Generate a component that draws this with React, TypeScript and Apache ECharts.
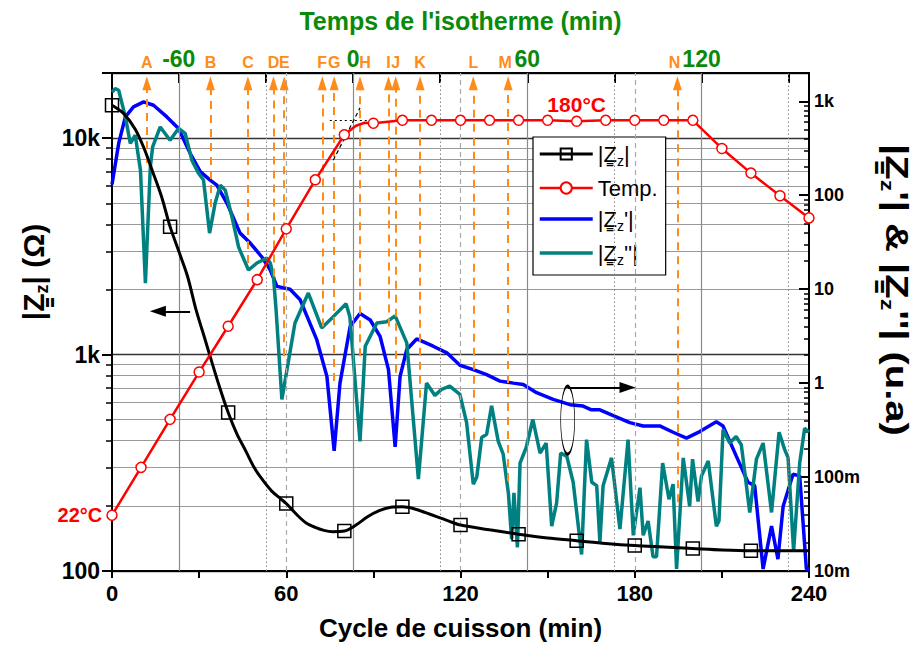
import React, { useEffect, useRef } from "react";
import * as echarts from "echarts";

const FONT = "'Liberation Sans', Arial, Helvetica, sans-serif";
const ORANGE = "#ff8c1a";
const GREEN = "#0a8a0a";
const TEAL = "#008080";
const BLUE = "#0000ff";
const RED = "#ff0000";

// Isotherm time origin on the cooking-cycle axis (min)
const isothermStart = 83;

// |Zz| (Ohm) — left log axis
const zmodTimes = [0, 4, 8, 11, 14, 17, 20, 23, 26, 29, 32, 34, 37, 40, 43, 46, 49, 52, 55, 58, 60, 64, 67, 70, 73, 76, 80, 84, 88, 92, 96, 100, 104, 108, 112, 116, 120, 130, 140, 150, 160, 170, 180, 190, 200, 210, 220, 230, 240];
const zmodValues = [14200, 13000, 11000, 9000, 7000, 5400, 3900, 3000, 2300, 1600, 1180, 960, 710, 540, 430, 360, 300, 262, 234, 216, 205, 180, 166, 159, 154, 152, 153, 163, 178, 190, 197, 198, 194, 186, 178, 170, 163, 155, 148, 142, 138, 134, 131, 129, 127, 125, 124, 124, 124];
const zmodMarkerTimes = [0, 20, 40, 60, 80, 100, 120, 140, 160, 180, 200, 220];

// Temperature (°C) — hidden linear axis
const tempTimes = [0, 10, 20, 30, 40, 50, 60, 70, 80, 84, 87, 90, 100, 110, 120, 130, 140, 150, 160, 170, 180, 190, 200, 210, 220, 230, 240];
const tempValues = [22.4, 41.6, 60.9, 79.9, 98.3, 117, 137.4, 157.1, 175.2, 178.8, 180, 179.8, 181, 181, 181, 181, 181, 181, 180.6, 181, 181, 181, 181, 169.7, 159.8, 150.7, 141.8];

// |Zz'| (a.u.) — right log axis
const zreTimes = [0, 2.3, 4.6, 7.4, 10.9, 14.3, 18.9, 22.9, 26.9, 30.4, 33.8, 36.1, 39.6, 44.1, 47.6, 51.6, 54.5, 56.8, 61.3, 64.8, 70.5, 74, 76.5, 78.5, 82, 85.4, 88.9, 92.3, 95.2, 97.5, 99.2, 101.5, 104.9, 110.6, 115.3, 119.8, 124.4, 129, 133.6, 138.2, 141.6, 146.2, 151.9, 157.7, 162.2, 165.1, 168, 172.6, 178.3, 182.9, 188.6, 193.2, 197.8, 202.4, 208.1, 210.4, 215, 219, 221.3, 224.2, 227.1, 229.3, 231.1, 234.5, 236.8, 239.1, 240];
const zreValues = [130, 356, 682, 871, 984, 907, 682, 513, 279, 178, 145, 128, 82, 39.5, 31, 22, 16, 10.7, 10, 7.7, 2.9, 1.18, 0.19, 1.0, 4.0, 5.5, 4.7, 3.15, 1.39, 0.21, 1.18, 2.28, 2.95, 2.47, 2.1, 1.55, 1.39, 1.23, 1.05, 1.0, 0.966, 0.79, 0.67, 0.59, 0.57, 0.52, 0.52, 0.45, 0.38, 0.35, 0.35, 0.3, 0.26, 0.305, 0.387, 0.35, 0.166, 0.088, 0.081, 0.0105, 0.03, 0.0134, 0.049, 0.107, 0.103, 0.0105, 0.0105];

// |Zz''| (a.u.) — right log axis
const zimTimes = [0, 1.1, 2.3, 4.6, 6.3, 8, 9.8, 11.5, 13.2, 14, 16.6, 20, 22.9, 25.2, 27.5, 29.8, 31.5, 33.6, 35.5, 37.3, 39, 41.3, 43.6, 47, 49.9, 53.3, 54.5, 55.6, 56.5, 58.5, 63, 67.6, 72.2, 76.2, 80.6, 81.9, 85.4, 87.2, 91.2, 94.6, 97.5, 101.5, 105.5, 108.3, 111.2, 113.5, 116.3, 119.8, 122.1, 124.4, 125.6, 127.3, 129, 130.7, 133, 134.7, 136.5, 137.6, 138.4, 139.6, 140.5, 142.6, 144.9, 147.4, 149.5, 151.4, 153.1, 154.5, 156.6, 158.8, 161.7, 163.4, 165.2, 166.9, 168, 169.1, 172, 174.9, 177.7, 179.5, 181.8, 182.9, 184.6, 186.3, 187.5, 189.6, 191.8, 193.2, 194.4, 196.7, 198.9, 199.9, 201.8, 203, 205.3, 208.1, 209, 210.4, 212.7, 214.9, 216.7, 219.6, 221.9, 224.2, 227.1, 229.7, 231.6, 232.8, 234.7, 236.8, 238.5, 240];
const zimValues = [1250, 1365, 1310, 682, 356, 435, 185, 11.6, 201, 327, 533, 385, 513, 454, 236, 171, 145, 39.5, 82, 128, 113, 59, 28, 16, 19, 21.4, 19, 13.6, 6, 0.67, 4.37, 9.1, 3.87, 5.1, 7.0, 5.1, 0.24, 2.47, 4.37, 4.5, 5.2, 2.68, 0.095, 1.0, 0.74, 0.86, 0.93, 0.757, 0.38, 0.084, 0.1, 0.264, 0.285, 0.574, 0.24, 0.175, 0.067, 0.0218, 0.068, 0.0178, 0.141, 0.205, 0.41, 0.18, 0.23, 0.03, 0.053, 0.18, 0.166, 0.088, 0.015, 0.25, 0.088, 0.081, 0.02, 0.081, 0.16, 0.028, 0.25, 0.024, 0.077, 0.024, 0.034, 0.0142, 0.0142, 0.141, 0.058, 0.084, 0.0105, 0.16, 0.049, 0.155, 0.055, 0.103, 0.148, 0.03, 0.034, 0.32, 0.23, 0.27, 0.22, 0.042, 0.155, 0.23, 0.042, 0.3, 0.197, 0.16, 0.0164, 0.141, 0.33, 0.3];

// Event markers A..N (cycle time, lower end on right axis)
const eventNames = ["A", "B", "C", "D", "E", "F", "G", "H", "I", "J", "K", "L", "M", "N"];
const eventTimes = [12.0, 33.9, 46.8, 55.6, 59.3, 72.4, 76.5, 85.4, 95.2, 97.7, 106.1, 124.4, 136.4, 194.7];
const eventEnds = [220, 75, 19, 13.6, 1.93, 4.0, 1.05, 1.93, 4.0, 1.29, 0.7, 0.25, 0.091, 0.054];
const eventLabelShift = [0, 0, 0, 0, 0, 0, 0, 5, 0, 0, 0, 0, -3, -3];
const eventArrowTop = 1553;

// Axis ticks
const bottomTickInterval = 30;
const topTicks = [-60, -30, 0, 30, 60, 90, 120, 150];
const topLabels = [-60, 0, 60, 120];
const topMinorGrid = [-30, 30, 90, 150];
const bottomDashedGrid = [60, 120, 180];

const pairs = (t: number[], v: number[]) => t.map((x, i) => [x, v[i]]);

const subRich = (size: number, pad: number, color = "#000", weight: any = "normal") => ({
  fontSize: size,
  fontFamily: FONT,
  fontWeight: weight,
  color,
  padding: [pad, 0, 0, 0],
});

const legendNames: Record<string, string> = {
  Zmod: "|Z\u0333{s|z}|",
  "Temp.": "Temp.",
  Zre: "|Z\u0333{s|z}'|",
  Zim: "|Z\u0333{s|z}''|",
};

function buildOption(): any {
  const zmodData = zmodTimes.map((t, i) => {
    const item: any = { value: [t, zmodValues[i]] };
    if (!zmodMarkerTimes.includes(t)) item.symbol = "none";
    return item;
  });
  const tempData = tempTimes.map((t, i) => {
    const item: any = { value: [t, tempValues[i]] };
    if (t % 10 !== 0) item.symbol = "none";
    if (t === 0) {
      item.label = {
        show: true, position: "left", distance: 4, formatter: "22°C",
        color: RED, fontSize: 20, fontWeight: "bold", fontFamily: FONT,
      };
    }
    if (t === 160) {
      item.label = {
        show: true, position: "top", distance: 1, formatter: "180°C",
        color: RED, fontSize: 21, fontWeight: "bold", fontFamily: FONT,
      };
    }
    return item;
  });

  const eventLines = eventNames.map((n, i) => [
    { name: n, coord: [eventTimes[i], eventEnds[i]], label: { offset: [eventLabelShift[i], 0] } },
    { name: n, coord: [eventTimes[i], eventArrowTop] },
  ]);

  return {
    animation: false,
    backgroundColor: "#fff",
    textStyle: { fontFamily: FONT },
    grid: { left: 112, right: 111, top: 73, bottom: 74, containLabel: false },
    legend: {
      data: [
        { name: "Zmod" },
        { name: "Temp." },
        { name: "Zre", itemStyle: { opacity: 0 } },
        { name: "Zim", itemStyle: { opacity: 0 } },
      ],
      orient: "vertical",
      left: 533,
      top: 137,
      padding: [6, 8, 8, 5],
      itemGap: 9,
      itemWidth: 53,
      itemHeight: 14,
      lineStyle: { width: "inherit" },
      backgroundColor: "#fff",
      borderColor: "#000",
      borderWidth: 1.2,
      borderRadius: 0,
      formatter: (name: string) => legendNames[name] ?? name,
      textStyle: {
        fontSize: 22,
        fontFamily: FONT,
        color: "#000",
        rich: { s: subRich(14, 14) },
      },
    },
    xAxis: [
      {
        type: "value",
        min: 0,
        max: 240,
        interval: bottomTickInterval,
        position: "bottom",
        axisLine: { onZero: false, lineStyle: { color: "#000", width: 2 } },
        axisTick: { show: true, inside: false, length: 7, lineStyle: { color: "#000", width: 2 } },
        axisLabel: {
          formatter: (v: number) => (v % 60 === 0 ? String(v) : ""),
          color: "#000", fontSize: 22, fontWeight: "bold", fontFamily: FONT, margin: 11,
        },
        splitLine: { show: false },
        name: "Cycle de cuisson (min)",
        nameLocation: "middle",
        nameGap: 44,
        nameTextStyle: { fontSize: 26, fontWeight: "bold", color: "#000", fontFamily: FONT },
      },
      {
        type: "value",
        min: -isothermStart,
        max: 240 - isothermStart,
        position: "top",
        axisLine: { onZero: false, lineStyle: { color: "#000", width: 2 } },
        axisTick: { show: true, inside: true, length: 10, customValues: topTicks, lineStyle: { color: "#000", width: 2 } },
        axisLabel: {
          customValues: topLabels,
          color: GREEN, fontSize: 23, fontWeight: "bold", fontFamily: FONT, margin: 3,
        },
        splitLine: { show: false },
        name: "Temps de l'isotherme (min)",
        nameLocation: "middle",
        nameGap: 40,
        nameTextStyle: { fontSize: 25, fontWeight: "bold", color: GREEN, fontFamily: FONT },
      },
    ],
    yAxis: [
      {
        type: "log",
        logBase: 10,
        min: 100,
        max: 20000,
        position: "left",
        axisLine: { show: true, onZero: false, lineStyle: { color: "#000", width: 2 } },
        axisTick: { show: true, inside: false, length: 10, lineStyle: { color: "#000", width: 2 } },
        minorTick: { show: true, splitNumber: 9, length: 6, lineStyle: { color: "#000", width: 1.5 } },
        axisLabel: {
          showMaxLabel: false,
          formatter: (v: number) => (v >= 20000 ? "" : v >= 1000 ? v / 1000 + "k" : String(v)),
          color: "#000", fontSize: 23, fontWeight: "bold", fontFamily: FONT, margin: 12,
        },
        splitLine: { show: true, lineStyle: { color: "#333", width: 1.3 } },
        minorSplitLine: { show: true, lineStyle: { color: "#999", width: 1 } },
      },
      {
        type: "log",
        logBase: 10,
        min: 0.01,
        max: 2000,
        position: "right",
        axisLine: { show: true, onZero: false, lineStyle: { color: "#000", width: 2 } },
        axisTick: { show: true, inside: true, length: 10, lineStyle: { color: "#000", width: 2 } },
        minorTick: { show: true, splitNumber: 9, length: 5, lineStyle: { color: "#000", width: 1.5 } },
        axisLabel: {
          showMaxLabel: false,
          formatter: (v: number) =>
            v >= 2000 ? "" : v >= 1000 ? v / 1000 + "k" : v < 1 ? Math.round(v * 1000) + "m" : String(Math.round(v)),
          color: "#000", fontSize: 18, fontWeight: "bold", fontFamily: FONT, margin: 5,
        },
        splitLine: { show: false },
      },
      { type: "value", min: 0, max: 200, show: false },
    ],
    graphic: [
      {
        type: "text",
        x: 33,
        y: 272,
        rotation: Math.PI / 2,
        style: {
          text: "{m||Z\u0333}{s|z}{m|| (Ω)}",
          align: "center",
          verticalAlign: "middle",
          rich: {
            m: { fontSize: 30, fontWeight: "bold", fontFamily: FONT, color: "#000" },
            s: subRich(18, 18, "#000", "bold"),
          },
        },
      },
      {
        type: "text",
        x: 897,
        y: 290,
        rotation: -Math.PI / 2,
        scaleY: 0.8,
        style: {
          text: "{k||}{b|Z\u0333}{bs|z}{b|'}{k|| & |}{t|Z\u0333}{ts|z}{t|''}{k|| (u.a)}",
          align: "center",
          verticalAlign: "middle",
          rich: {
            k: { fontSize: 40, fontWeight: "bold", fontFamily: FONT, color: "#000" },
            b: { fontSize: 40, fontWeight: "bold", fontFamily: FONT, color: BLUE },
            t: { fontSize: 40, fontWeight: "bold", fontFamily: FONT, color: TEAL },
            bs: subRich(23, 24, BLUE, "bold"),
            ts: subRich(23, 24, TEAL, "bold"),
          },
        },
      },
    ],
    series: [
      {
        name: "gridTop",
        type: "line",
        xAxisIndex: 1,
        yAxisIndex: 2,
        data: [[0, 0]],
        symbol: "none",
        silent: true,
        clip: false,
        z: 1,
        lineStyle: { opacity: 0 },
        markLine: {
          silent: true,
          symbol: "none",
          label: { show: false },
          data: [
            ...topLabels.map((v) => ({ xAxis: v, lineStyle: { color: "#8a8a8a", width: 1.2, type: "solid" } })),
            ...topMinorGrid.map((v) => ({ xAxis: v, lineStyle: { color: "#888", width: 1, type: [1.5, 2.5] } })),
          ],
        },
      },
      {
        name: "gridBottom",
        type: "line",
        xAxisIndex: 0,
        yAxisIndex: 2,
        data: [[0, 0]],
        symbol: "none",
        silent: true,
        clip: false,
        z: 1,
        lineStyle: { opacity: 0 },
        markLine: {
          silent: true,
          symbol: "none",
          label: { show: false },
          data: bottomDashedGrid.map((v) => ({ xAxis: v, lineStyle: { color: "#aaa", width: 1.2, type: [5, 4] } })),
        },
      },
      {
        name: "events",
        type: "line",
        xAxisIndex: 0,
        yAxisIndex: 1,
        data: [[0, 1]],
        symbol: "none",
        silent: true,
        clip: false,
        z: 2,
        lineStyle: { opacity: 0 },
        markLine: {
          silent: true,
          symbol: ["none", "triangle"],
          symbolSize: [9, 14],
          lineStyle: { color: ORANGE, width: 2, type: [8, 6] },
          itemStyle: { color: ORANGE },
          label: {
            show: true,
            position: "end",
            distance: 13,
            formatter: (p: any) => p.name,
            color: ORANGE,
            fontSize: 16,
            fontWeight: "bold",
            fontFamily: FONT,
          },
          data: eventLines,
        },
      },
      {
        name: "Zre",
        type: "line",
        xAxisIndex: 0,
        yAxisIndex: 1,
        data: pairs(zreTimes, zreValues),
        symbol: "none",
        z: 3,
        lineStyle: { color: BLUE, width: 3.5 },
        itemStyle: { color: BLUE },
        markPoint: {
          silent: true,
          data: [
            {
              coord: [156.9, 0.404],
              symbol: "circle",
              symbolSize: [14, 68],
              itemStyle: { color: "rgba(0,0,0,0)", borderColor: "#000", borderWidth: 1.5 },
              label: { show: false },
            },
          ],
        },
        markLine: {
          silent: true,
          symbol: ["none", "triangle"],
          symbolSize: [11, 16],
          lineStyle: { color: "#000", width: 2, type: "solid" },
          itemStyle: { color: "#000" },
          label: { show: false },
          data: [[{ coord: [156.9, 0.898] }, { coord: [177.5, 0.898] }]],
        },
      },
      {
        name: "Zim",
        type: "line",
        xAxisIndex: 0,
        yAxisIndex: 1,
        data: pairs(zimTimes, zimValues),
        symbol: "none",
        z: 4,
        lineStyle: { color: TEAL, width: 3.5 },
        itemStyle: { color: TEAL },
      },
      {
        name: "Zmod",
        type: "line",
        xAxisIndex: 0,
        yAxisIndex: 0,
        data: zmodData,
        smooth: 0.3,
        symbol: "rect",
        symbolSize: 13,
        z: 5,
        lineStyle: { color: "#000", width: 3 },
        itemStyle: { color: "rgba(255,255,255,0)", borderColor: "#000", borderWidth: 1.5 },
        markLine: {
          silent: true,
          symbol: ["none", "triangle"],
          symbolSize: [11, 16],
          lineStyle: { color: "#000", width: 2, type: "solid" },
          itemStyle: { color: "#000" },
          label: { show: false },
          data: [[{ coord: [26.9, 1585] }, { coord: [15.8, 1585] }]],
        },
      },
      {
        name: "Temp.",
        type: "line",
        xAxisIndex: 0,
        yAxisIndex: 2,
        data: tempData,
        symbol: "circle",
        symbolSize: 10,
        z: 6,
        lineStyle: { color: RED, width: 2.5 },
        itemStyle: { color: "#fff", borderColor: RED, borderWidth: 1.5 },
        markLine: {
          silent: true,
          symbol: "none",
          label: { show: false },
          data: [
            [{ coord: [75, 181], lineStyle: { color: "#000", width: 1.2, type: [2, 3] } }, { coord: [91, 181] }],
            [{ coord: [76.2, 165], lineStyle: { color: "#000", width: 1.2, type: [4, 3] } }, { coord: [85.4, 186] }],
          ],
        },
      },
    ],
  };
}

export default function App() {
  const ref = useRef<HTMLDivElement>(null);
  useEffect(() => {
    if (!ref.current) return;
    const chart = echarts.init(ref.current, null, { renderer: "svg" });
    chart.setOption(buildOption());
    return () => chart.dispose();
  }, []);
  return (
    <div
      ref={ref}
      style={{ position: "fixed", left: 0, top: 0, width: 920, height: 646, background: "#fff" }}
    />
  );
}
